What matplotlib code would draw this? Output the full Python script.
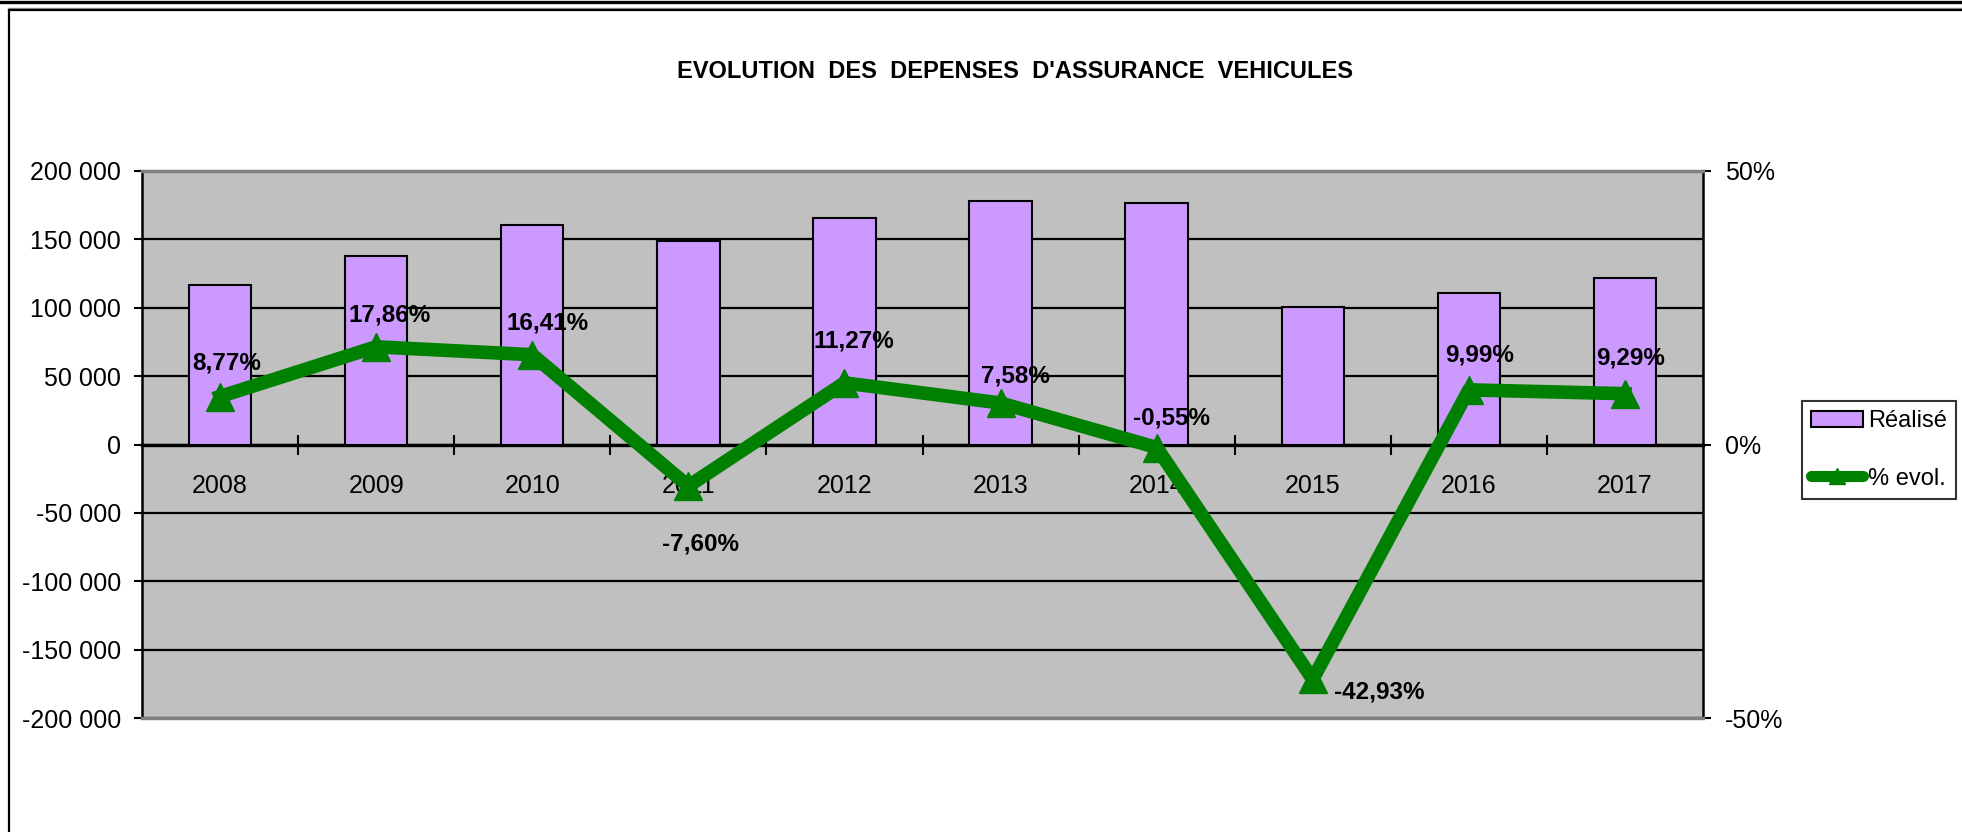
import matplotlib
matplotlib.use("Agg")
import matplotlib.pyplot as plt
from matplotlib.lines import Line2D
from matplotlib.patches import Patch
from matplotlib.ticker import FuncFormatter, FixedLocator

plt.rcParams['font.family'] = ['Liberation Sans', 'DejaVu Sans']

# données
annees = ['2008', '2009', '2010', '2011', '2012', '2013', '2014', '2015', '2016', '2017']
realise = [117000, 138000, 160500, 148500, 165500, 178000, 176500, 100500, 111000, 121500]
evol = [8.77, 17.86, 16.41, -7.60, 11.27, 7.58, -0.55, -42.93, 9.99, 9.29]
etiquettes = ['8,77%', '17,86%', '16,41%', '-7,60%', '11,27%', '7,58%', '-0,55%', '-42,93%', '9,99%', '9,29%']

# décalage des étiquettes (pixels)
decalages = [(7, 34), (13, 32), (15, 32), (12, -58), (9, 42), (15, 27), (15, 30), (21, -13), (11, 35), (6, 36)]

W, H = 1962, 832
fig = plt.figure(figsize=(W / 100, H / 100), dpi=100)
ax = fig.add_axes([142 / W, 1 - 718 / H, (1703 - 142) / W, (718 - 171) / H])
ax.set_facecolor('#C0C0C0')

x = list(range(len(annees)))
ax.bar(x, realise, width=0.4, color='#CC99FF', edgecolor='black', linewidth=1.5, zorder=3)

ax.set_xlim(-0.5, len(annees) - 0.5)
ax.set_ylim(-200000, 200000)
ax.set_yticks(range(-200000, 200001, 50000))
ax.yaxis.set_major_formatter(FuncFormatter(lambda v, p: f"{int(v):,}".replace(',', ' ')))
ax.yaxis.grid(True, color='black', linewidth=1.6)
ax.set_axisbelow(True)
ax.tick_params(axis='y', direction='out', length=6, width=1.5, pad=9, labelsize=18)

ax.set_xticks(x)
ax.set_xticklabels(annees)
ax.xaxis.set_minor_locator(FixedLocator([i + 0.5 for i in range(len(annees) - 1)]))
ax.tick_params(axis='x', which='major', length=0, pad=21, labelsize=18)
ax.tick_params(axis='x', which='minor', direction='inout', length=14, width=1.5)

ax.spines['bottom'].set_position(('data', 0))
ax.spines['bottom'].set_linewidth(2.4)
ax.spines['left'].set_linewidth(1.8)
ax.spines['top'].set_visible(False)
ax.spines['right'].set_visible(False)

ax2 = ax.twinx()
ax2.plot(x, [v / 100 for v in evol], color='#008000', linewidth=9.8, marker='^',
         markersize=20, zorder=4)
ax2.set_ylim(-0.5, 0.5)
ax2.set_yticks([-0.5, 0, 0.5])
ax2.yaxis.set_major_formatter(FuncFormatter(lambda v, p: f"{v * 100:.0f}%"))
ax2.tick_params(axis='y', direction='out', length=6, width=1.5, pad=10, labelsize=18)
ax2.spines['right'].set_linewidth(1.8)
ax2.spines['left'].set_visible(False)
ax2.spines['top'].set_color('#808080')
ax2.spines['bottom'].set_color('#808080')
ax2.spines['top'].set_linewidth(2.5)
ax2.spines['bottom'].set_linewidth(2.5)

for i, (v, lab, (dx, dy)) in enumerate(zip(evol, etiquettes, decalages)):
    ha = 'left' if lab == '-42,93%' else 'center'
    ax2.annotate(lab, (i, v / 100), xytext=(dx, dy), textcoords='offset pixels',
                 ha=ha, va='center', fontsize=17.5, fontweight='bold', zorder=5)

fig.text(1015 / W, 1 - 71 / H, "EVOLUTION  DES  DEPENSES  D'ASSURANCE  VEHICULES",
         ha='center', va='center', fontsize=17, fontweight='bold')

handles = [Patch(facecolor='#CC99FF', edgecolor='black', linewidth=1.5),
           Line2D([], [], color='#008000', linewidth=8, marker='^', markersize=11,
                  solid_capstyle='round')]
leg = fig.legend(handles, ['Réalisé', '% evol.'], loc='center',
                 bbox_to_anchor=(1879 / W, 1 - 450 / H), fontsize=17,
                 frameon=True, fancybox=False, handlelength=2.2, handletextpad=0.2,
                 borderpad=0.4, labelspacing=1.5, borderaxespad=0)
leg.get_frame().set_edgecolor('black')
leg.get_frame().set_linewidth(1.5)

# cadre du graphique
fig.add_artist(Line2D([0, 1], [1 - 1.6 / H] * 2, transform=fig.transFigure, color='black', lw=2.4))
fig.add_artist(Line2D([9.3 / W, 1], [1 - 8.3 / H] * 2, transform=fig.transFigure, color='#909090', lw=1))
fig.add_artist(Line2D([9.3 / W, 1], [1 - 10.2 / H] * 2, transform=fig.transFigure, color='black', lw=1.6))
fig.add_artist(Line2D([9.3 / W] * 2, [0, 1 - 10 / H], transform=fig.transFigure, color='black', lw=1.6))

fig.savefig('out.png', dpi=100)
